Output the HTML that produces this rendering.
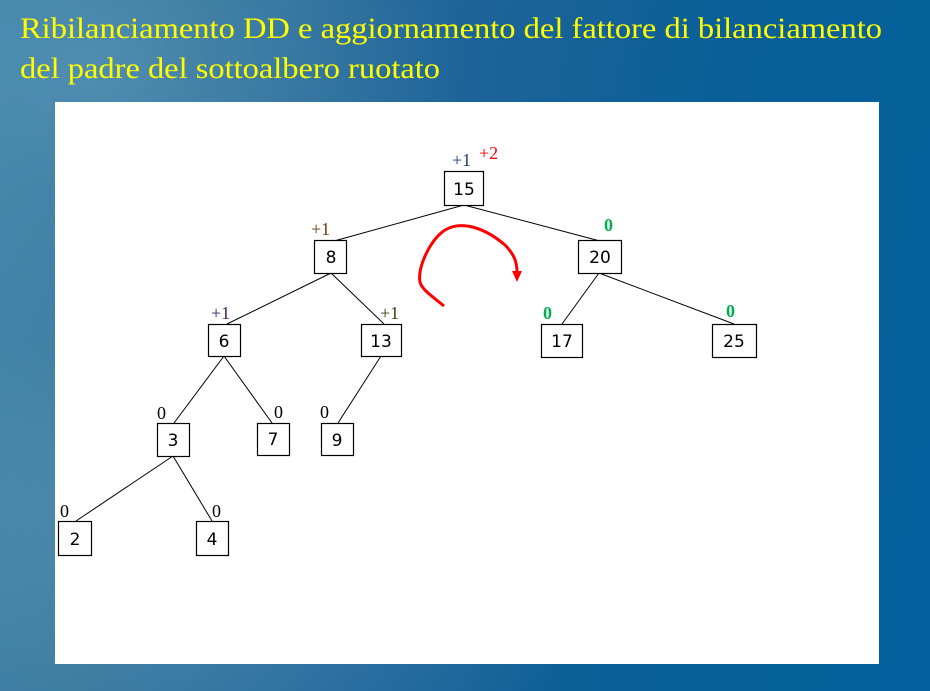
<!DOCTYPE html>
<html><head><meta charset="utf-8"><style>
html,body{margin:0;padding:0;width:930px;height:691px;overflow:hidden}
body{background:linear-gradient(100deg,#3d7fa6 0%,#2f6f97 20%,#1d6499 45%,#0a5f98 70%,#03609c 100%)}
</style></head><body>
<svg width="930" height="691" viewBox="0 0 930 691" xmlns="http://www.w3.org/2000/svg" style="position:absolute;left:0;top:0">
<defs>
<radialGradient id="g1" cx="0.15" cy="0.75" r="0.5"><stop offset="0" stop-color="#6aa2c2" stop-opacity="0.5"/><stop offset="1" stop-color="#6aa2c2" stop-opacity="0"/></radialGradient>
<radialGradient id="g2" cx="0.1" cy="0.1" r="0.4"><stop offset="0" stop-color="#5f9bbd" stop-opacity="0.6"/><stop offset="1" stop-color="#5f9bbd" stop-opacity="0"/></radialGradient>
</defs>
<rect width="930" height="691" fill="url(#g1)"/>
<rect width="930" height="691" fill="url(#g2)"/>
<text x="20" y="38" font-family="Liberation Serif, serif" font-size="30" fill="#ffff00" textLength="862" lengthAdjust="spacingAndGlyphs">Ribilanciamento DD e aggiornamento del fattore di bilanciamento</text>
<text x="20" y="78" font-family="Liberation Serif, serif" font-size="30" fill="#ffff00" textLength="420" lengthAdjust="spacingAndGlyphs">del padre del sottoalbero ruotato</text>
<rect x="55" y="102" width="824" height="562" fill="#fff"/>
<g stroke="#000" stroke-width="1" fill="none">
<line x1="464" y1="205" x2="334" y2="241"/>
<line x1="464" y1="205" x2="600" y2="241"/>
<line x1="331" y1="273" x2="227" y2="324"/>
<line x1="331" y1="273" x2="384" y2="324"/>
<line x1="599" y1="273" x2="562" y2="324"/>
<line x1="599" y1="273" x2="734" y2="324"/>
<line x1="224" y1="356" x2="174" y2="423"/>
<line x1="224" y1="356" x2="272" y2="423"/>
<line x1="381" y1="356" x2="338" y2="423"/>
<line x1="173" y1="456" x2="76" y2="521"/>
<line x1="173" y1="456" x2="212" y2="521"/>
</g>
<g stroke="#000" stroke-width="1.2" fill="#fff">
<rect x="444.5" y="171.5" width="39" height="34"/>
<rect x="314.5" y="240.5" width="32" height="33"/>
<rect x="578.5" y="240.5" width="43" height="33"/>
<rect x="208.5" y="324.5" width="32" height="32"/>
<rect x="361.5" y="324.5" width="40" height="32"/>
<rect x="541.5" y="324.5" width="41" height="33"/>
<rect x="712.5" y="324.5" width="44" height="33"/>
<rect x="157.5" y="423.5" width="32" height="33"/>
<rect x="257.5" y="423.5" width="32" height="32"/>
<rect x="321.5" y="423.5" width="32" height="32"/>
<rect x="58.5" y="521.5" width="33" height="34"/>
<rect x="196.5" y="521.5" width="32" height="34"/>
</g>
<g font-family="DejaVu Sans, sans-serif" font-size="17" fill="#000" text-anchor="middle">
<text x="464" y="195">15</text>
<text x="331" y="263">8</text>
<text x="600" y="263">20</text>
<text x="224" y="347">6</text>
<text x="381" y="347">13</text>
<text x="562" y="347">17</text>
<text x="734" y="347">25</text>
<text x="173" y="446">3</text>
<text x="273" y="445">7</text>
<text x="337" y="446">9</text>
<text x="75" y="545">2</text>
<text x="212" y="545">4</text>
</g>
<g font-family="Liberation Serif, serif" font-size="18">
<text x="452" y="166" fill="#1f3a6e">+1</text>
<text x="479" y="159" fill="#ff0000">+2</text>
<text x="311" y="235" fill="#6b3a10">+1</text>
<text x="211" y="319" fill="#3a1f50">+1</text>
<text x="380" y="319" fill="#3b3a10">+1</text>
<text x="157" y="419" fill="#000">0</text>
<text x="274" y="418" fill="#000">0</text>
<text x="320" y="418" fill="#000">0</text>
<text x="60" y="517" fill="#000">0</text>
<text x="212" y="517" fill="#000">0</text>
</g>
<g font-family="Liberation Serif, serif" font-size="18" font-weight="bold" fill="#00b050">
<text x="604" y="231">0</text>
<text x="543" y="319">0</text>
<text x="726" y="317">0</text>
</g>
<path d="M444,306 C432,296 422,290 420,282 C417,268 430,240 445,230 C462,220 485,228 505,245 C514,254 517,262 517,272" stroke="#ff0000" stroke-width="3" fill="none"/>
<polygon points="512,271 522,271 517,282" fill="#ff0000"/>
</svg>
</body></html>
